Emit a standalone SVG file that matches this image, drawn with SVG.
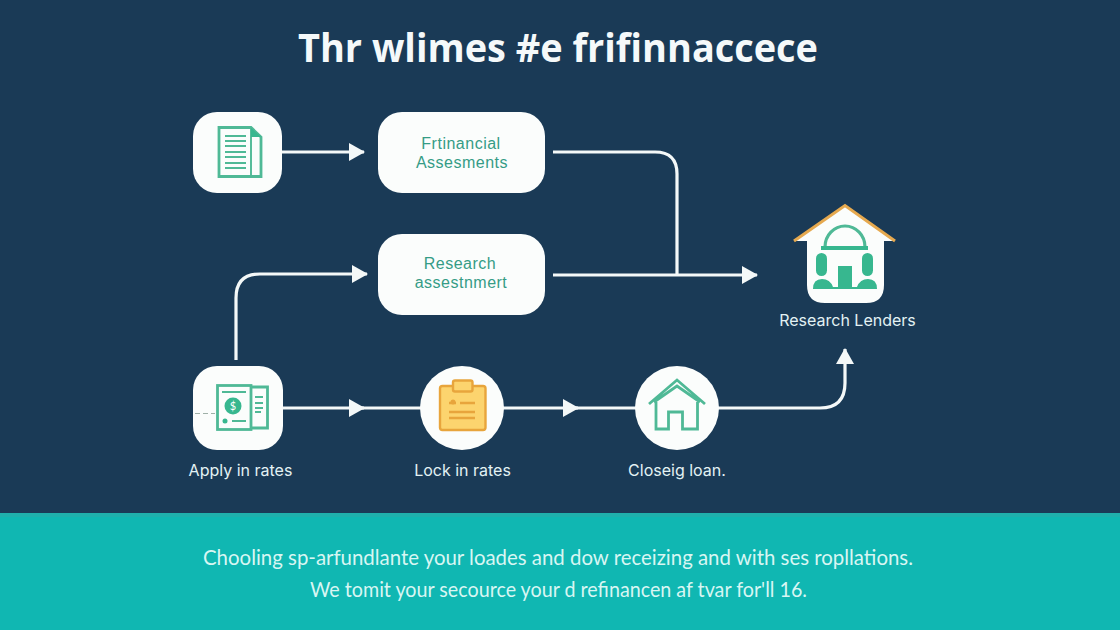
<svg xmlns="http://www.w3.org/2000/svg" width="1120" height="630" viewBox="0 0 1120 630">
<style>
.card{fill:#fbfdfc}
.ln{fill:none;stroke:#f4f8f8;stroke-width:3.200}
.ic{fill:none;stroke:#4fb996;stroke-width:2.800}
.sm{fill:none;stroke:#4fb996;stroke-width:1.900}
.y{fill:none;stroke:#e8a53c;stroke-width:2.400}
.g{fill:#37b78f}
text{font-family:"Lato","Open Sans","Liberation Sans",sans-serif}
.t{font-size:16px;letter-spacing:.5px;fill:#359c86;text-anchor:middle;font-family:"Liberation Sans",sans-serif}
.l{font-size:16px;fill:#e3f2f4;text-anchor:middle;font-family:"Inter","Liberation Sans",sans-serif}
.b{font-size:21px;fill:#d8f6f3;text-anchor:middle}
</style>
<defs>
<marker id="a" markerUnits="userSpaceOnUse" markerWidth="18" markerHeight="20" refX="15" refY="10" orient="auto"><path d="M0 1 L16 10 L0 19Z" fill="#f4f8f8"/></marker>
</defs>
<rect width="1120" height="630" fill="#1a3a56"/>
<rect y="513" width="1120" height="117" fill="#10b7b2"/>
<rect y="513" width="1120" height="4" fill="#1fb0ac"/>
<text x="558" y="62" font-size="39" font-weight="700" fill="#f5f9fa" text-anchor="middle" textLength="520" lengthAdjust="spacingAndGlyphs" style="font-family:'Open Sans','Liberation Sans',sans-serif">Thr wlimes #e frifinnaccece</text>
<g id="connectors">
<path class="ln" marker-end="url(#a)" d="M282 152H364"/>
<path class="ln" d="M553 152H655Q677 152 677 174V275"/>
<path class="ln" marker-end="url(#a)" d="M553 275H757"/>
<path class="ln" marker-end="url(#a)" d="M236 360V298Q236 274 260 274H367"/>
<path class="ln" marker-end="url(#a)" d="M283 408H364"/>
<path class="ln" d="M360 408H421"/>
<path class="ln" marker-end="url(#a)" d="M503 408H578"/>
<path class="ln" d="M573 408H636"/>
<path class="ln" marker-end="url(#a)" d="M718 408H820Q845 408 845 383V349"/>
</g>
<g id="node-document">
<rect class="card" x="193" y="112" width="89" height="81" rx="24"/>
<path class="ic" d="M219 127.500H251L261 137V176.500H219Z"/>
<path class="sm" d="M251 128V176"/>
<path d="M251 128L261 137H251Z" fill="#37b78f"/>
<path class="sm" d="M225 136H246M225 141H246M225 146H246M225 152H246M225 157H246M225 163H246M225 168H246"/>
</g>
<g id="node-financial">
<rect class="card" x="378" y="112" width="167" height="81" rx="24"/>
<text class="t" x="461" y="149">Frtinancial</text>
<text class="t" x="462" y="168">Assesments</text>
</g>
<g id="node-research">
<rect class="card" x="378" y="234" width="167" height="81" rx="24"/>
<text class="t" x="460" y="269">Research</text>
<text class="t" x="461" y="288">assestnmert</text>
</g>
<g id="node-apply">
<rect class="card" x="193" y="366" width="90" height="84" rx="24"/>
<path class="ic" d="M251 387H267.500V428H251"/>
<rect class="ic" x="217.500" y="385.500" width="33.500" height="44"/>
<circle class="g" cx="233" cy="406" r="8.500"/>
<text x="233" y="410" font-size="11" fill="#fff" text-anchor="middle">$</text>
<path class="sm" d="M222 392H246M255 397H263M255 403H263M255 408H263M255 412H261M232 421H246"/>
<circle class="g" cx="225" cy="421" r="2.500"/>
<path d="M195 413.500H215" fill="none" stroke="#9fb0a8" stroke-width="1.200" stroke-dasharray="5 3"/>
<text class="l" x="240.500" y="476">Apply in rates</text>
</g>
<g id="node-lock">
<circle class="card" cx="462" cy="408" r="42"/>
<rect x="440" y="386" width="45.500" height="44" rx="2.500" fill="#fcd46e" stroke="#e8a53c" stroke-width="2.400"/>
<rect x="453" y="380.500" width="19.500" height="11" rx="2" fill="#fcd46e" stroke="#e8a53c" stroke-width="2.400"/>
<path class="y" d="M449 403H456M460 403H475M449 412H475M449 418H475"/>
<circle cx="453" cy="402" r="2.500" fill="#e8a53c"/>
<text class="l" x="462.500" y="476">Lock in rates</text>
</g>
<g id="node-closing">
<circle class="card" cx="677" cy="408" r="42"/>
<path class="ic" d="M649 404L677 380L705 404M654 402L677 386L700 402"/>
<path class="ic" d="M656 402V429H668.500V412H682.500V429H697.500V402"/>
<text class="l" x="677" y="476">Closeig loan.</text>
</g>
<g id="node-lenders">
<path class="card" d="M807 241H795L845 206L895 241H884V285Q884 303 866 303H825Q807 303 807 285Z"/>
<path d="M794 241L845 205.500L895 241" fill="none" stroke="#e6a94f" stroke-width="3"/>
<path fill="none" stroke="#4fb996" stroke-width="3.200" d="M825 247A20 21 0 0 1 865 247"/>
<rect class="g" x="821" y="246" width="47" height="4"/>
<rect class="g" x="816" y="253" width="11" height="23" rx="5.500"/>
<rect class="g" x="862" y="253" width="11" height="23" rx="5.500"/>
<rect class="g" x="838" y="266" width="14" height="23"/>
<path class="g" d="M813 289Q813 279 822 279Q830 279 833 287H857Q860 279 868 279Q877 279 877 289Z"/>
<text class="l" x="847.500" y="326">Research Lenders</text>
</g>
<text class="b" x="558" y="565" textLength="710" lengthAdjust="spacingAndGlyphs">Chooling sp-arfundlante your loades and dow receizing and with ses ropllations.</text>
<text class="b" x="558.500" y="597" textLength="497" lengthAdjust="spacingAndGlyphs">We tomit your secource your d refinancen af tvar for'll 16.</text>
</svg>
